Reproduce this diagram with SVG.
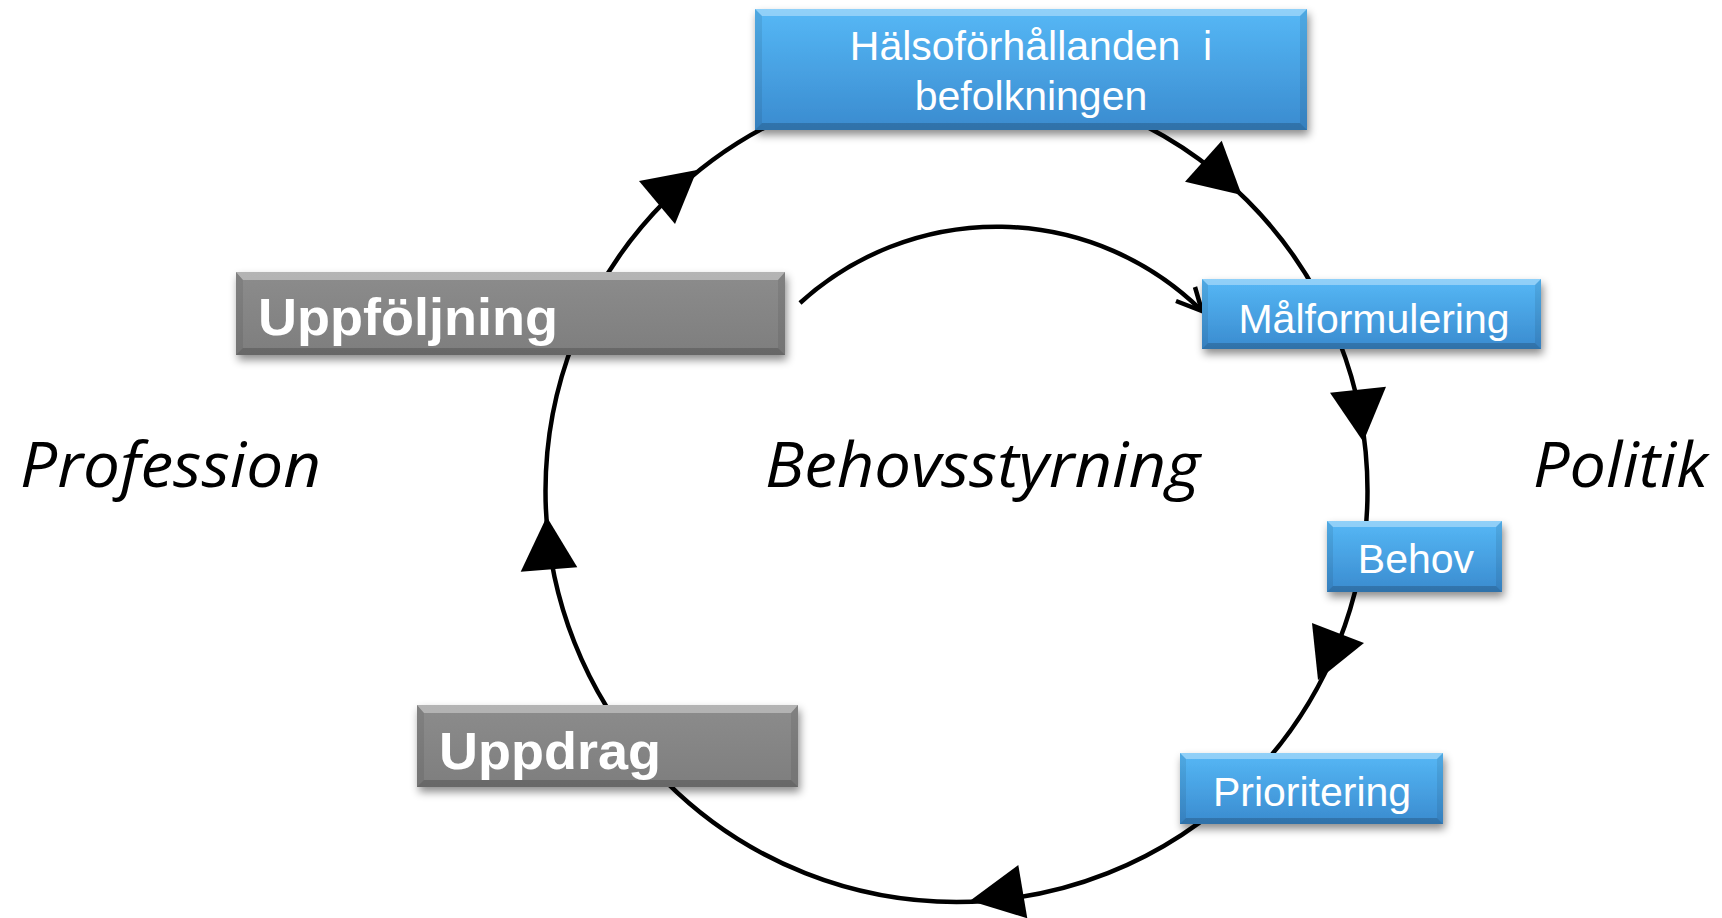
<svg xmlns="http://www.w3.org/2000/svg" width="1722" height="918" viewBox="0 0 1722 918">
<style>
  .ln { fill: none; stroke: #000; stroke-width: 4.5; }
  .ah { fill: #000; stroke: none; }
  .body-b { fill: url(#blueBody); filter: url(#shadow); }
  .body-g { fill: url(#grayBody); filter: url(#shadow); }
  .bt { fill: #ffffff; opacity: 0.35; }
  .bb { fill: #000000; opacity: 0.18; }
  .bs { fill: #000000; opacity: 0.08; }
  .tb { font-family: "Liberation Sans", Arial, sans-serif; font-size: 41px; fill: #ffffff; text-anchor: middle; }
  .tg { font-family: "Liberation Sans", Arial, sans-serif; font-size: 52px; font-weight: bold; fill: #ffffff; }
  .ti { font-family: "Open Sans", "Noto Sans", sans-serif; font-size: 62px; font-style: italic; fill: #000; }
</style>
<defs>
  <linearGradient id="blueBody" x1="0" y1="0" x2="0" y2="1">
    <stop offset="0" stop-color="#56B8F6"/>
    <stop offset="1" stop-color="#3A8BCF"/>
  </linearGradient>
  <linearGradient id="grayBody" x1="0" y1="0" x2="0" y2="1">
    <stop offset="0" stop-color="#8C8C8C"/>
    <stop offset="1" stop-color="#7E7E7E"/>
  </linearGradient>
  <filter id="shadow" x="-10%" y="-20%" width="120%" height="160%">
    <feDropShadow dx="2" dy="5" stdDeviation="4" flood-color="#000" flood-opacity="0.45"/>
  </filter>
</defs>
<rect x="0" y="0" width="1722" height="918" fill="#ffffff"/>

<g id="connectors">
  <circle class="ln" cx="956.5" cy="491" r="411"/>
  <path class="ln" d="M800,303 A292,292 0 0 1 1201,310"/>
  <polyline class="ln" points="1176,301 1202,311 1195,287" stroke-linejoin="miter"/>
  <polygon class="ah" points="1241.7,195 1185,181.7 1221.7,140.7"/>
  <polygon class="ah" points="1363.3,441.7 1330,392.7 1386,386.7"/>
  <polygon class="ah" points="1318,680 1312,623 1364,643"/>
  <polygon class="ah" points="970,900.7 1018.3,865 1027.3,918.3"/>
  <polygon class="ah" points="546.7,516.7 520.7,571.7 577.3,567.3"/>
  <polygon class="ah" points="697,170 639,181 675,224"/>
</g>

<g id="node-halsoforhallanden">
  <rect class="body-b" x="755" y="9" width="552" height="121"/>
  <polygon class="bt" points="755,9 1307,9 1300,16 762,16"/>
  <polygon class="bb" points="755,130 1307,130 1300,123 762,123"/>
  <polygon class="bs" points="755,9 762,16 762,123 755,130"/>
  <polygon class="bs" points="1307,9 1300,16 1300,123 1307,130"/>
  <text class="tb" x="1031" y="60" xml:space="preserve">Hälsoförhållanden  i</text>
  <text class="tb" x="1031" y="110">befolkningen</text>
</g>

<g id="node-uppfoljning">
  <rect class="body-g" x="236" y="272" width="549" height="83"/>
  <polygon class="bt" points="236,272 785,272 778,280 243,280"/>
  <polygon class="bb" points="236,355 785,355 778,348 243,348"/>
  <polygon class="bs" points="236,272 243,280 243,348 236,355"/>
  <polygon class="bs" points="785,272 778,280 778,348 785,355"/>
  <text class="tg" x="258" y="335" textLength="300" lengthAdjust="spacingAndGlyphs">Uppföljning</text>
</g>

<g id="node-uppdrag">
  <rect class="body-g" x="417" y="705" width="381" height="82"/>
  <polygon class="bt" points="417,705 798,705 791,713 424,713"/>
  <polygon class="bb" points="417,787 798,787 791,780 424,780"/>
  <polygon class="bs" points="417,705 424,713 424,780 417,787"/>
  <polygon class="bs" points="798,705 791,713 791,780 798,787"/>
  <text class="tg" x="439" y="769" textLength="222" lengthAdjust="spacingAndGlyphs">Uppdrag</text>
</g>

<g id="node-malformulering">
  <rect class="body-b" x="1202" y="279" width="339" height="70"/>
  <polygon class="bt" points="1202,279 1541,279 1535,285 1208,285"/>
  <polygon class="bb" points="1202,349 1541,349 1535,343 1208,343"/>
  <polygon class="bs" points="1202,279 1208,285 1208,343 1202,349"/>
  <polygon class="bs" points="1541,279 1535,285 1535,343 1541,349"/>
  <text class="tb" x="1374" y="333">Målformulering</text>
</g>

<g id="node-behov">
  <rect class="body-b" x="1327" y="521" width="175" height="71"/>
  <polygon class="bt" points="1327,521 1502,521 1496,527 1333,527"/>
  <polygon class="bb" points="1327,592 1502,592 1496,586 1333,586"/>
  <polygon class="bs" points="1327,521 1333,527 1333,586 1327,592"/>
  <polygon class="bs" points="1502,521 1496,527 1496,586 1502,592"/>
  <text class="tb" x="1416" y="573">Behov</text>
</g>

<g id="node-prioritering">
  <rect class="body-b" x="1180" y="753" width="263" height="71"/>
  <polygon class="bt" points="1180,753 1443,753 1437,759 1186,759"/>
  <polygon class="bb" points="1180,824 1443,824 1437,818 1186,818"/>
  <polygon class="bs" points="1180,753 1186,759 1186,818 1180,824"/>
  <polygon class="bs" points="1443,753 1437,759 1437,818 1443,824"/>
  <text class="tb" x="1312" y="806">Prioritering</text>
</g>

<g id="labels">
  <text class="ti" x="20" y="487" textLength="301" lengthAdjust="spacingAndGlyphs">Profession</text>
  <text class="ti" x="765" y="487" textLength="435" lengthAdjust="spacingAndGlyphs">Behovsstyrning</text>
  <text class="ti" x="1533" y="487" textLength="175" lengthAdjust="spacingAndGlyphs">Politik</text>
</g>
</svg>
